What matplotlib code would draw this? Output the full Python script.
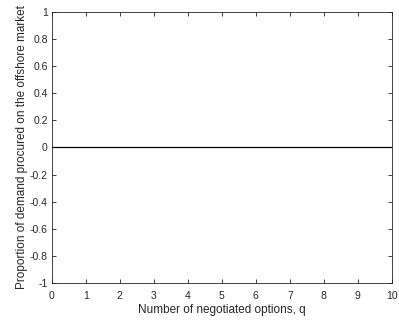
import numpy as np
import matplotlib
matplotlib.use("Agg")
import matplotlib.pyplot as plt

plt.rcParams['font.family'] = ['Liberation Sans', 'DejaVu Sans']

q = [0, 1, 2, 3, 4, 5, 6, 7, 8, 9, 10]
proportion = [0, 0, 0, 0, 0, 0, 0, 0, 0, 0, 0]
xticks = [0, 1, 2, 3, 4, 5, 6, 7, 8, 9, 10]
yticks = [-1, -0.8, -0.6, -0.4, -0.2, 0, 0.2, 0.4, 0.6, 0.8, 1]
yticklabels = ['-1', '-0.8', '-0.6', '-0.4', '-0.2', '0', '0.2', '0.4', '0.6', '0.8', '1']

fig = plt.figure(figsize=(3.99, 3.21), dpi=100)
ax = fig.add_axes([0.130, 0.118, 0.852, 0.845])
ax.plot(q, proportion, color='black', linewidth=0.9)

ax.set_xlim(0, 10)
ax.set_ylim(-1, 1)
ax.set_xticks(xticks)
ax.set_yticks(yticks)
ax.set_yticklabels(yticklabels)
ax.tick_params(direction='in', length=3, width=0.6, labelsize=7.5,
               colors='#262626', top=True, right=True, pad=3)
ax.tick_params(axis='x', pad=5.5)
for s in ax.spines.values():
    s.set_color('#262626')
    s.set_linewidth(0.6)

ax.set_xlabel('Number of negotiated options, q', fontsize=8.5, color='#262626', labelpad=2)
ax.set_ylabel('Proportion of demand procured on the offshore market', fontsize=8.5,
              color='#262626', labelpad=1)

fig.savefig('out.png', dpi=100)
